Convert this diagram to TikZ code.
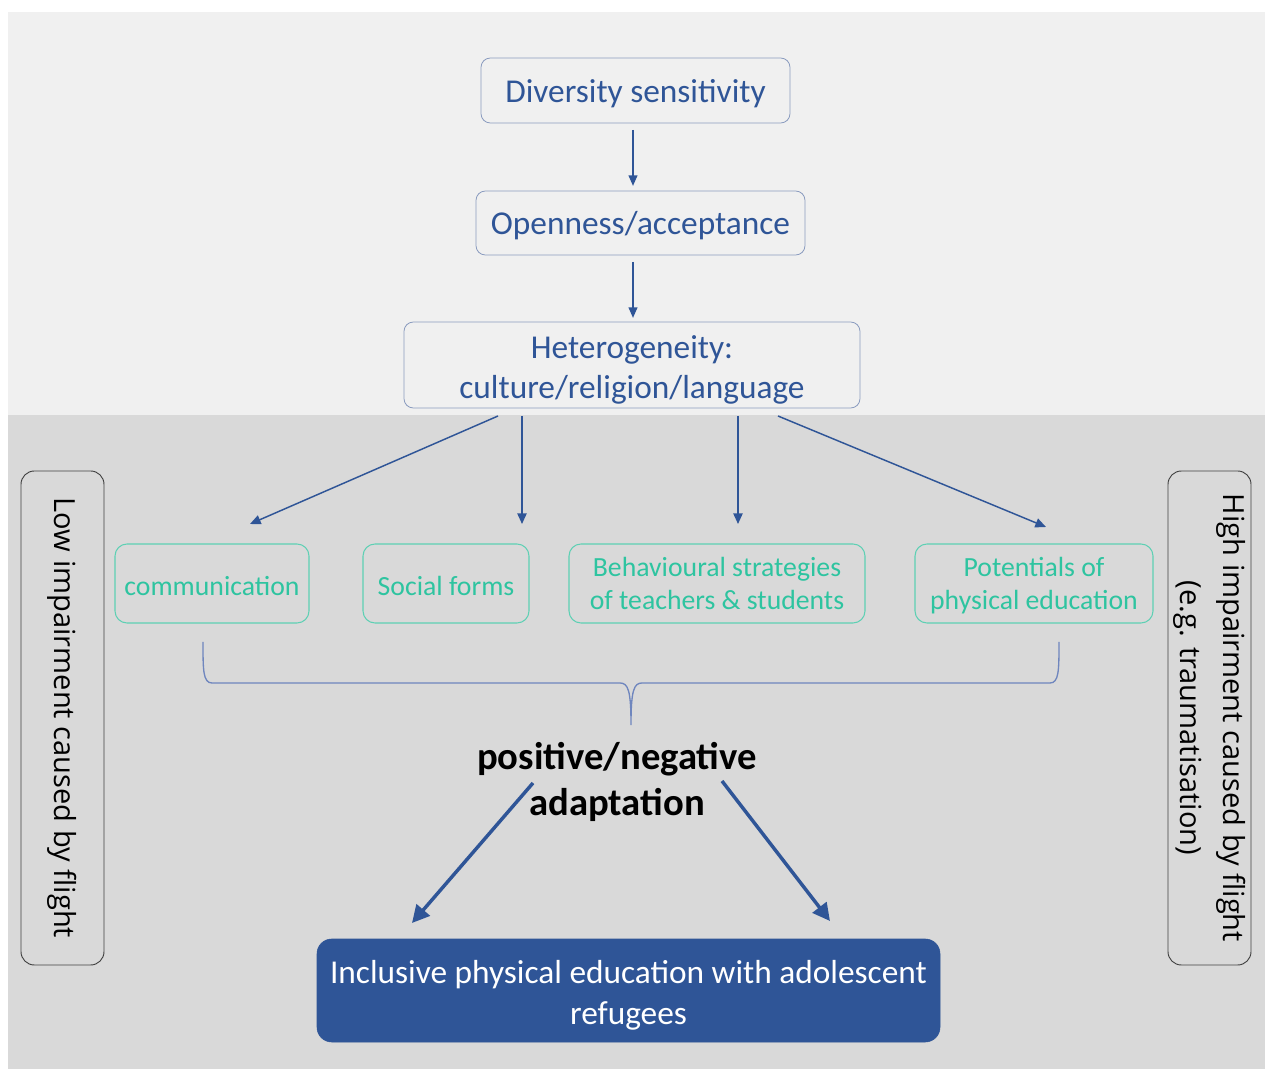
\documentclass[tikz,border=0pt]{standalone}
\usepackage{fontspec}
\setmainfont{Carlito}
\newfontfamily\sidefont{Open Sans}
\usetikzlibrary{arrows.meta}
\definecolor{dblue}{HTML}{2F5597}
\definecolor{bgtop}{HTML}{F0F0F0}
\definecolor{bgbot}{HTML}{D9D9D9}
\definecolor{teal}{HTML}{2EC4A0}
\definecolor{tealb}{HTML}{5ED0B4}
\definecolor{boxb}{HTML}{8A9BBF}
\definecolor{brace}{HTML}{6F86BE}
\tikzset{
  topbox/.style={draw=boxb, line width=0.6pt, rounded corners=7pt, text=dblue, font=\fontsize{25}{30}\selectfont, inner sep=0pt, align=center},
  greenbox/.style={draw=tealb, line width=0.8pt, rounded corners=9pt, text=teal, font=\fontsize{20.8}{24.8}\selectfont, inner sep=0pt, align=center},
  sidebox/.style={draw=black!75, line width=0.7pt, rounded corners=10pt, inner sep=0pt},
  thin arrow/.style={draw=dblue, line width=1.5pt, -{Triangle[length=8pt,width=6.5pt]}},
  thinline/.style={draw=dblue, line width=1.1pt, -{Triangle[length=8pt,width=7pt]}},
  thick arrow/.style={draw=dblue, line width=2.6pt, -{Triangle[length=13pt,width=13pt]}},
}
\begin{document}
\begin{tikzpicture}[x=0.75pt,y=-0.75pt]
\useasboundingbox (0,0) rectangle (1265,1069);
\fill[white] (0,0) rectangle (1265,1069);
\fill[bgtop] (8,12) rectangle (1265,415);
\fill[bgbot] (8,415) rectangle (1265,1069);

% top chain
\node[topbox, minimum width=309*0.75pt, minimum height=65*0.75pt, text height=23pt, text depth=5pt] (div) at (635.5,90.5) {Diversity sensitivity};
\node[topbox, minimum width=329*0.75pt, minimum height=64*0.75pt, text height=22pt, text depth=5pt] (open) at (640.5,223) {Openness/acceptance};
\node[topbox, minimum width=456*0.75pt, minimum height=86*0.75pt, text height=56pt, text depth=5pt] (het) at (632,365) {Heterogeneity:\\culture/religion/language};

\coordinate (a1s) at (633,130); \coordinate (a1e) at (633,186);
\coordinate (a2s) at (633,262); \coordinate (a2e) at (633,318);
\draw[thin arrow] (a1s) -- (a1e);
\draw[thin arrow] (a2s) -- (a2e);

% green boxes
\node[greenbox, minimum width=194*0.75pt, minimum height=79*0.75pt, text height=20pt, text depth=2pt] (com) at (212,583.5) {communication};
\node[greenbox, minimum width=166*0.75pt, minimum height=79*0.75pt, text height=20pt, text depth=2pt] (soc) at (446,583.5) {Social forms};
\node[greenbox, minimum width=296*0.75pt, minimum height=79*0.75pt] (beh) at (717,583.5) {Behavioural strategies\\of teachers \& students};
\node[greenbox, minimum width=238*0.75pt, minimum height=79*0.75pt, text height=43pt, text depth=4pt] (pot) at (1034,583.5) {Potentials of\\physical education};

% fan arrows
\coordinate (f1s) at (498,416); \coordinate (f1e) at (250,524);
\coordinate (f2s) at (522,416); \coordinate (f2e) at (522,524);
\coordinate (f3s) at (738,416); \coordinate (f3e) at (738,524);
\coordinate (f4s) at (778,416); \coordinate (f4e) at (1046,527);
\draw[thinline] (f1s) -- (f1e);
\draw[thinline] (f2s) -- (f2e);
\draw[thinline] (f3s) -- (f3e);
\draw[thinline] (f4s) -- (f4e);

% brace
\draw[brace, line width=1pt] (203,642) .. controls (203,670) and (203,683) .. (212,683)
  -- (620,683) .. controls (628,683) and (631,690) .. (631,725)
  .. controls (631,690) and (634,683) .. (642,683)
  -- (1050,683) .. controls (1059,683) and (1059,670) .. (1059,642);
\coordinate (bt) at (631,725);

% adaptation
\node[font=\bfseries\fontsize{29}{35}\selectfont, align=center, inner sep=0pt] (adapt) at (617,782) {positive/negative\\adaptation};

% final box
\node[draw=dblue, fill=dblue, rounded corners=11pt, text=white, minimum width=623*0.75pt, minimum height=103*0.75pt, inner sep=0pt, align=center, font=\fontsize{25}{31}\selectfont, text height=57pt, text depth=6pt] (incl) at (628.5,990.5) {Inclusive physical education with adolescent\\refugees};

\coordinate (t1s) at (533,783); \coordinate (t1e) at (412,923);
\coordinate (t2s) at (722,781); \coordinate (t2e) at (830,921);
\draw[thick arrow] (t1s) -- (t1e);
\draw[thick arrow] (t2s) -- (t2e);

% side boxes
\node[sidebox, minimum width=83*0.75pt, minimum height=494*0.75pt] (low) at (62.5,718) {};
\node[rotate=-90, font=\sidefont\fontsize{21.8}{32}\selectfont, inner sep=0pt] (lowt) at (low.center) {Low impairment caused by flight};
\node[sidebox, minimum width=83*0.75pt, minimum height=494*0.75pt] (high) at (1209.5,718) {};
\node[rotate=-90, font=\sidefont\fontsize{21.8}{32}\selectfont, inner sep=0pt, align=center] (hight) at (high.center) {High impairment caused by flight\\(e.g. traumatisation)};
\end{tikzpicture}
\end{document}
